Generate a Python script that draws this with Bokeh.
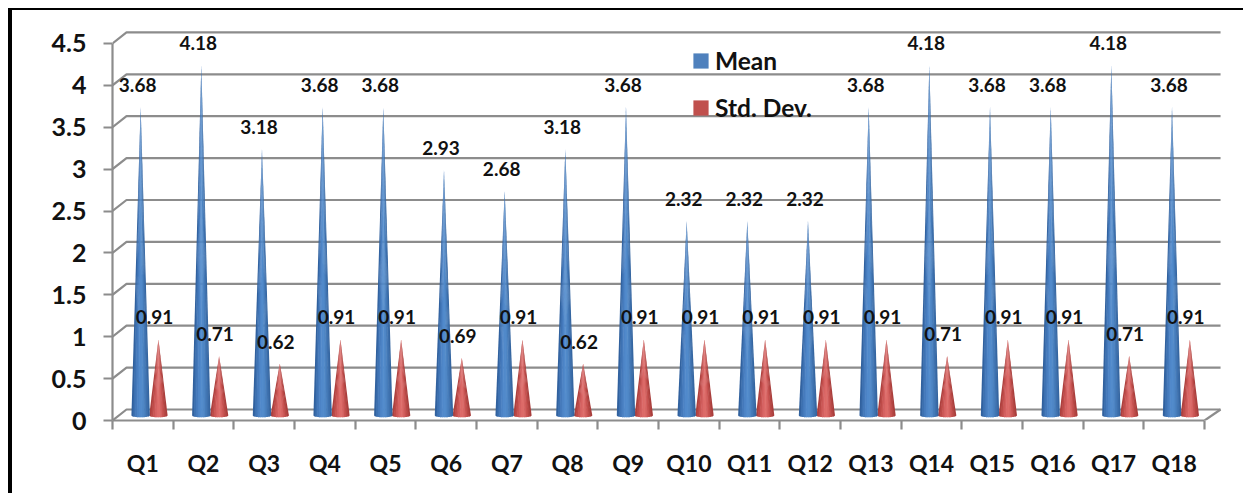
from bokeh.plotting import figure
from bokeh.models import (Range1d, LinearAxis, FixedTicker, Legend, LegendItem,
                          ColumnDataSource)
from bokeh.core.properties import value
from bokeh.embed import file_html
from bokeh.resources import INLINE

categories = ["Q1","Q2","Q3","Q4","Q5","Q6","Q7","Q8","Q9","Q10","Q11","Q12",
              "Q13","Q14","Q15","Q16","Q17","Q18"]
mean_values = [3.68,4.18,3.18,3.68,3.68,2.93,2.68,3.18,3.68,2.32,2.32,2.32,
               3.68,4.18,3.68,3.68,4.18,3.68]
std_values = [0.91,0.71,0.62,0.91,0.91,0.69,0.91,0.62,0.91,0.91,0.91,0.91,
              0.91,0.71,0.91,0.91,0.71,0.91]
y_ticks = [0,0.5,1,1.5,2,2.5,3,3.5,4,4.5]
y_labels = {0:"0",0.5:"0.5",1:"1",1.5:"1.5",2:"2",2.5:"2.5",3:"3",3.5:"3.5",4:"4",4.5:"4.5"}

# The figure sits at (8,8) with a 4px left and 2px top black rule; the canvas grows by the rule widths.
W, H = 1231, 483
LEFT, RIGHT, TOP, BOTTOM = 100, 21, 10, 75
UX = 60.67   # px per category
UY = 83.8    # px per unit of value
frame_w, frame_h = W+4-LEFT-RIGHT, H+2-TOP-BOTTOM
DX_L, DX_R, DY = 14/UX, 16/UX, 11/UY   # depth of the 3-D box
LIFT = 5/UY                            # cone base above the front edge
BLUE_OFF, RED_OFF = -2.2/UX, 15.6/UX   # cone centres from category centre
RADIUS = 9.2/UX
ELL = 1.8/UY
FONT = "Lato"
GRID = "#8c8c8c"

p = figure(width=W, height=H, output_backend="svg", toolbar_location=None,
           x_range=Range1d(0, frame_w/UX), y_range=Range1d(0, frame_h/UY),
           x_axis_type=None, y_axis_type=None,
           min_border_left=LEFT, min_border_right=RIGHT,
           min_border_top=TOP, min_border_bottom=BOTTOM)
p.styles = {"margin":"8px 0 0 8px", "border-left":"4px solid black", "border-top":"2px solid black",
            "box-sizing":"content-box"}
p.outline_line_color = None
p.grid.visible = False
p.background_fill_color = "white"

n = len(categories)
xs, ys = [], []
for t in y_ticks:
    xs.append([0, DX_L, n+DX_R]); ys.append([t, t+DY, t+DY])
p.multi_line(xs, ys, line_color=GRID, line_width=2.2)
p.segment([n],[0],[n+DX_R],[DY], line_color=GRID, line_width=2.2)

ya = LinearAxis(ticker=FixedTicker(ticks=y_ticks), major_label_overrides=y_labels,
                bounds=(0,4.5), axis_line_color=GRID, axis_line_width=2.2,
                major_tick_line_color=GRID, major_tick_line_width=2.2,
                major_tick_in=0, major_tick_out=9, minor_tick_line_color=None,
                major_label_standoff=17, major_label_text_font=FONT,
                major_label_text_font_style="bold", major_label_text_font_size="25px",
                major_label_text_color="#111111")
p.add_layout(ya, "left")
centres = [i+0.5 for i in range(n)]
xa = LinearAxis(ticker=FixedTicker(ticks=centres, minor_ticks=list(range(n+1))),
                major_label_overrides={c:l for c,l in zip(centres,categories)},
                bounds=(0,n), axis_line_color=GRID, axis_line_width=2.2,
                major_tick_line_color=None, major_tick_in=0, major_tick_out=0,
                minor_tick_line_color=GRID, minor_tick_line_width=2.2,
                minor_tick_in=0, minor_tick_out=9,
                major_label_standoff=19, major_label_text_font=FONT,
                major_label_text_font_style="bold", major_label_text_font_size="23px",
                major_label_text_color="#111111")
p.add_layout(xa, "below")

BLUE_RAMP = ["#31619e","#3c70b0","#4479bb","#4c83c5","#5089cb","#528bcb","#4e86c5","#467cba","#3e71ae","#3566a1"]
RED_RAMP = ["#ad403e","#bc4a48","#ca5654","#d46060","#dc6967","#dd6c69","#d46260","#c85351","#b84845","#a93e3c"]
def cones(vals, off, ramp):
    out = {"xs":[], "ys":[], "c":[]}
    m = len(ramp)
    for i, v in enumerate(vals):
        cx = i+0.5+off
        tip = v+LIFT
        for k in range(m):
            u0 = -1+2*k/m
            u1 = min(1, -1+2*(k+1.35)/m)
            base_x, base_y = [], []
            for j in range(5):
                u = u0+(u1-u0)*j/4
                base_x.append(cx+u*RADIUS)
                base_y.append(LIFT-ELL*(max(0,1-u*u))**0.5)
            out["xs"].append([cx]+base_x)
            out["ys"].append([tip]+base_y)
            out["c"].append(ramp[k])
    return ColumnDataSource(out)

for vals, off, ramp in [(std_values, RED_OFF, RED_RAMP), (mean_values, BLUE_OFF, BLUE_RAMP)]:
    p.patches("xs","ys",source=cones(vals,off,ramp),fill_color="c",line_color=None)

for vals, off, xo in [(mean_values,BLUE_OFF,-3),(std_values,RED_OFF,-4)]:
    p.text([i+0.5+off for i in range(n)], [v+LIFT for v in vals],
           text=[f"{v:.2f}" for v in vals], text_font=value(FONT), text_font_style="bold",
           text_font_size="19px", text_color="#111111", text_align="center",
           text_baseline="middle", x_offset=xo, y_offset=-22)

nan = float("nan")
src = ColumnDataSource(dict(l=[nan], r=[nan], t=[nan], b=[nan]))
r1 = p.quad(left="l",right="r",top="t",bottom="b",source=src,fill_color="#4f81bd",line_color=None)
r2 = p.quad(left="l",right="r",top="t",bottom="b",source=src,fill_color="#c0504d",line_color=None)
leg = Legend(items=[LegendItem(label="Mean",renderers=[r1]),LegendItem(label="Std. Dev.",renderers=[r2])],
             location=(579,298), background_fill_alpha=0, border_line_color=None,
             glyph_width=19, glyph_height=19, spacing=18, label_height=26, padding=0, margin=0,
             label_standoff=5, label_text_font=FONT, label_text_font_style="bold",
             label_text_font_size="24.5px", label_text_color="#111111")
p.add_layout(leg, "center")

open("out.html","w").write(file_html(p, INLINE))
